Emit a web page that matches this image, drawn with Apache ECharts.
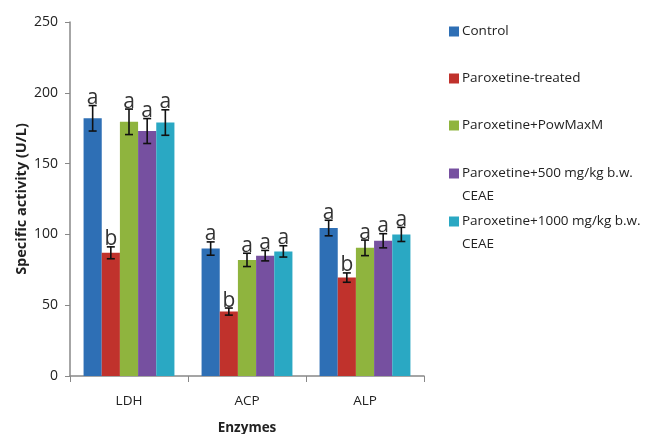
<!DOCTYPE html>
<html><head><meta charset="utf-8">
<script src="https://cdn.jsdelivr.net/npm/echarts@6/dist/echarts.min.js"></script>
<style>html,body{margin:0;padding:0;background:#fff}#c{width:645px;height:434px}</style>
</head><body><div id="c"></div>
<script>
var categories = ['LDH', 'ACP', 'ALP'];
var seriesNames = ['Control', 'Paroxetine-treated', 'Paroxetine+PowMaxM', 'Paroxetine+500 mg/kg b.w.\nCEAE', 'Paroxetine+1000 mg/kg b.w.\nCEAE'];
var control = [182, 90, 104.5];
var treated = [87, 45.5, 69.5];
var powmax = [179.5, 82, 90.5];
var ceae500 = [173, 85, 95.5];
var ceae1000 = [179, 88, 100];
var errControl = [9, 4.7, 5.5];
var errTreated = [4.2, 2.5, 3.3];
var errPowmax = [9, 4.7, 5.5];
var errCeae500 = [8.8, 3.7, 5];
var errCeae1000 = [9, 4, 5];
var lettersControl = ['a', 'a', 'a'];
var lettersTreated = ['b', 'b', 'b'];
var lettersPowmax = ['a', 'a', 'a'];
var lettersCeae500 = ['a', 'a', 'a'];
var lettersCeae1000 = ['a', 'a', 'a'];
var yTicks = [0, 50, 100, 150, 200, 250];

var colors = ['#2E6FB5', '#C0322C', '#8FB43E', '#7650A0', '#2AA8C3'];
var values = [control, treated, powmax, ceae500, ceae1000];
var errs = [errControl, errTreated, errPowmax, errCeae500, errCeae1000];
var letters = [lettersControl, lettersTreated, lettersPowmax, lettersCeae500, lettersCeae1000];
var catGap = 0.23;
var FONT = 'Open Sans';

var chart = echarts.init(document.getElementById('c'));
var series = [];
values.forEach(function (v, i) {
  series.push({
    name: seriesNames[i], type: 'bar', data: v, barGap: '0%', barCategoryGap: (catGap * 100) + '%',
    itemStyle: { color: colors[i] }, z: 2
  });
});
values.forEach(function (v, i) {
  series.push({
    type: 'custom', z: 5, silent: true,
    data: v.map(function (val, j) { return [j, val, errs[i][j], letters[i][j]]; }),
    encode: { x: 0, y: 1 },
    renderItem: function (params, api) {
      var band = api.size([1, 0])[0];
      var bw = band * (1 - catGap) / 5;
      var c = api.coord([api.value(0), api.value(1)]);
      var x = c[0] - band * (1 - catGap) / 2 + bw * (i + 0.5);
      var val = api.value(1), e = api.value(2);
      var top = api.coord([api.value(0), val + e])[1];
      var bot = api.coord([api.value(0), val - e])[1];
      var cap = 4;
      var st = { stroke: '#111', lineWidth: 1.6 };
      return {
        type: 'group', children: [
          { type: 'line', shape: { x1: x, y1: top, x2: x, y2: bot }, style: st },
          { type: 'line', shape: { x1: x - cap, y1: top, x2: x + cap, y2: top }, style: st },
          { type: 'line', shape: { x1: x - cap, y1: bot, x2: x + cap, y2: bot }, style: st },
          { type: 'text', style: { text: letters[i][params.dataIndex], x: x, y: top + 3, textAlign: 'center', textVerticalAlign: 'bottom', fill: '#333', font: '21px "' + FONT + '"' } }
        ]
      };
    }
  });
});

var legendTops = [15, 62, 109, 157, 205];
var legends = seriesNames.map(function (n, i) {
  var two = n.indexOf('\n') >= 0;
  return {
    data: [n], left: 444, top: legendTops[i], orient: 'vertical',
    itemWidth: 10, itemHeight: two ? 33 : 10, itemGap: 0,
    icon: two ? 'path://M0,0L10,0L10,10L0,10Z M0,33' : 'rect',
    selectedMode: false,
    textStyle: { fontFamily: FONT, fontSize: 13.5, color: '#222', lineHeight: 23, padding: [0, 0, 0, -2] }
  };
});

chart.setOption({
  animation: false,
  color: colors,
  legend: legends,
  grid: { left: 70, right: 221, top: 22, bottom: 58, outerBoundsMode: 'none', containLabel: false },
  xAxis: {
    type: 'category', data: categories,
    axisLine: { lineStyle: { color: '#888', width: 1.5 } },
    axisTick: { show: true, length: 6, lineStyle: { color: '#888' } },
    axisLabel: { fontFamily: FONT, fontSize: 13.5, color: '#222', margin: 18 },
    name: 'Enzymes', nameLocation: 'middle', nameGap: 45, nameMoveOverlap: false,
    nameTextStyle: { fontFamily: FONT, fontSize: 13.5, fontWeight: 'bold', color: '#222' }
  },
  yAxis: {
    type: 'value', min: yTicks[0], max: yTicks[yTicks.length - 1], interval: yTicks[1] - yTicks[0],
    axisLine: { show: true, lineStyle: { color: '#888', width: 1.5 } },
    axisTick: { show: true, length: 5, lineStyle: { color: '#888' } },
    splitLine: { show: false },
    axisLabel: { fontFamily: FONT, fontSize: 14, color: '#222', margin: 12 },
    name: 'Specific activity (U/L)', nameLocation: 'middle', nameGap: 41, nameMoveOverlap: false,
    nameTextStyle: { fontFamily: FONT, fontSize: 14.5, fontWeight: 'bold', color: '#222' }
  },
  series: series
});
</script></body></html>
